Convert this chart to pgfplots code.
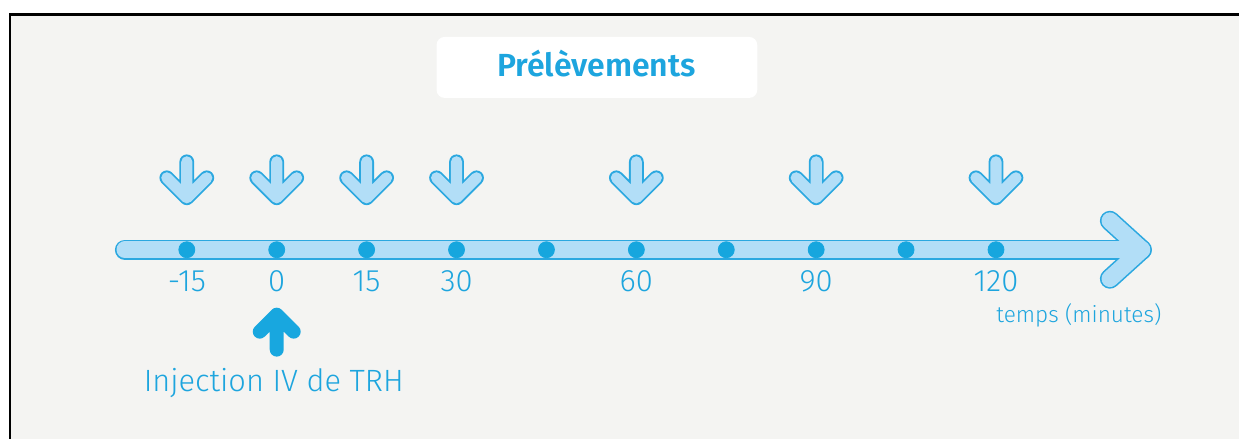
\documentclass[border=0pt]{standalone}
\usepackage{pgfplots}
\pgfplotsset{compat=1.18}
\usepackage{fontspec}
\setmainfont{Fira Sans}[UprightFont=* Light, BoldFont=* SemiBold]
\definecolor{bg}{HTML}{F4F4F2}
\definecolor{barfill}{HTML}{B2DEF7}
\definecolor{outline}{HTML}{2BA8E0}
\definecolor{dotblue}{HTML}{16A6DE}
\definecolor{txtblue}{HTML}{1DA5DE}
\definecolor{upblue}{HTML}{18A7DF}
\pgfdeclareplotmark{dnO}{%
  \pgfsetlinewidth{7.4pt}\pgfsetroundcap\pgfsetroundjoin
  \pgfpathmoveto{\pgfpoint{0pt}{18pt}}\pgfpathlineto{\pgfpoint{0pt}{0pt}}%
  \pgfpathmoveto{\pgfpoint{-10pt}{10pt}}\pgfpathlineto{\pgfpoint{0pt}{0pt}}\pgfpathlineto{\pgfpoint{10pt}{10pt}}%
  \pgfusepathqstroke}
\pgfdeclareplotmark{dnI}{%
  \pgfsetlinewidth{5.6pt}\pgfsetroundcap\pgfsetroundjoin
  \pgfpathmoveto{\pgfpoint{0pt}{18pt}}\pgfpathlineto{\pgfpoint{0pt}{0pt}}%
  \pgfpathmoveto{\pgfpoint{-10pt}{10pt}}\pgfpathlineto{\pgfpoint{0pt}{0pt}}\pgfpathlineto{\pgfpoint{10pt}{10pt}}%
  \pgfusepathqstroke}
\pgfdeclareplotmark{upA}{%
  \pgfsetlinewidth{7pt}\pgfsetroundcap\pgfsetroundjoin
  \pgfpathmoveto{\pgfpoint{0pt}{-17.5pt}}\pgfpathlineto{\pgfpoint{0pt}{0pt}}%
  \pgfpathmoveto{\pgfpoint{-8.5pt}{-8.5pt}}\pgfpathlineto{\pgfpoint{0pt}{0pt}}\pgfpathlineto{\pgfpoint{8.5pt}{-8.5pt}}%
  \pgfusepathqstroke}
\pgfplotstableread{
x y l
-15 147 -15
0 147 0
15 147 15
30 147 30
60 147 60
90 147 90
120 147 120
}\labels
\begin{document}
\begin{tikzpicture}
\begin{axis}[
  scale only axis, width=620pt, height=219.5pt,
  xmin=-46.1667, xmax=160.5, ymin=0, ymax=439,
  hide axis, clip=false]
% background and frame
\fill[white] (rel axis cs:0,0) rectangle (rel axis cs:1,1);
\fill[bg] (axis cs:-44.67,0) rectangle (axis cs:160.5,426);
\draw[black, line width=1.25pt] (axis cs:-44.5,0) -- (axis cs:-44.5,424.7) -- (axis cs:160.5,424.7);
% title box
\fill[white, rounded corners=4pt] (axis cs:26.67,341) rectangle (axis cs:80.17,402);
\node[anchor=base, text=txtblue, font=\fontsize{16}{18}\selectfont\bfseries] at (axis cs:53.33,362) {Prélèvements};
% timeline bar (outline then fill)
\addplot[draw=outline, line width=10pt, line cap=round, line join=round] coordinates {(-25.33,189) (144.33,189)};
\addplot[draw=outline, line width=10pt, line cap=round, line join=round] coordinates {(139.0,218) (144.33,189) (139.0,160)};
\addplot[draw=barfill, line width=8.4pt, line cap=round, line join=round] coordinates {(-25.33,189) (144.33,189)};
\addplot[draw=barfill, line width=8.4pt, line cap=round, line join=round] coordinates {(139.0,218) (144.33,189) (139.0,160)};
% time points
\addplot[only marks, mark=*, mark size=4pt, color=dotblue] coordinates {
(-15,189) (0,189) (15,189) (30,189) (45,189) (60,189) (75,189) (90,189) (105,189) (120,189)};
% sampling arrows
\addplot[only marks, mark=dnO, color=outline] coordinates {
(-15,241) (0,241) (15,241) (30,241) (60,241) (90,241) (120,241)};
\addplot[only marks, mark=dnI, color=barfill] coordinates {
(-15,241) (0,241) (15,241) (30,241) (60,241) (90,241) (120,241)};
% injection arrow
\addplot[only marks, mark=upA, color=upblue] coordinates {(0,124)};
% tick labels
\addplot[only marks, mark=none, nodes near coords, point meta=explicit symbolic,
  nodes near coords style={anchor=base, text=txtblue, font=\fontsize{15.5}{18}\selectfont}]
  table[x=x, y=y, meta=l] {\labels};
\node[anchor=base, text=txtblue, font=\fontsize{15.4}{19}\selectfont] at (axis cs:-0.5,47) {Injection IV de TRH};
\node[anchor=base, text=txtblue, font=\fontsize{11.3}{13}\selectfont] at (axis cs:133.83,116) {temps (minutes)};
\end{axis}
\end{tikzpicture}
\end{document}
